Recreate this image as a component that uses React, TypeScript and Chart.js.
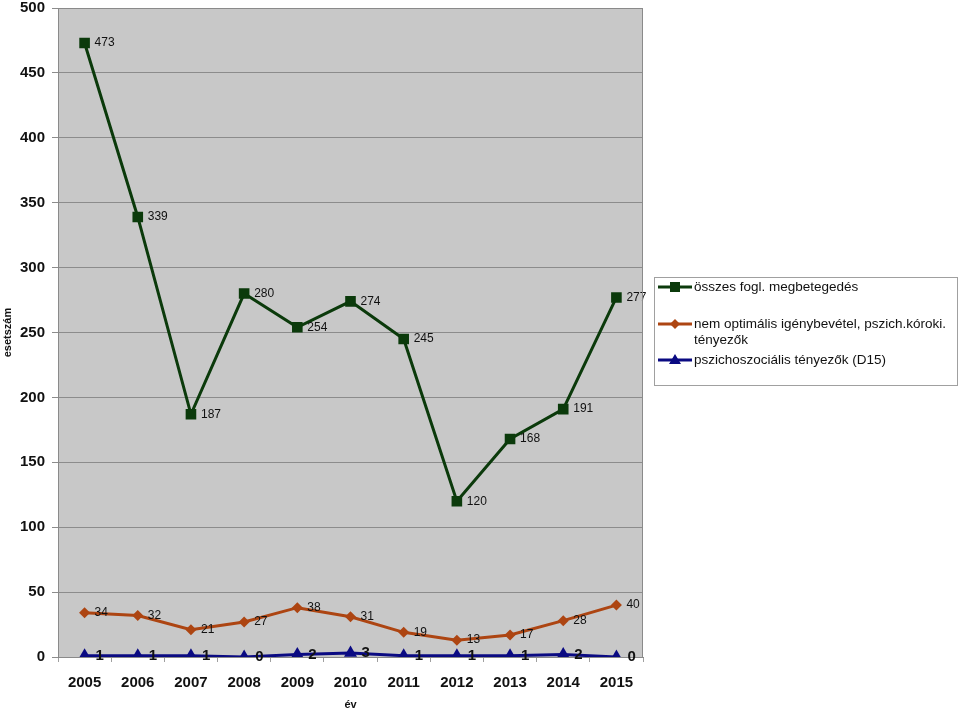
import React, { useEffect, useRef } from "react";
import { Chart, registerables } from "chart.js";

Chart.register(...registerables);

const years = ["2005", "2006", "2007", "2008", "2009", "2010", "2011", "2012", "2013", "2014", "2015"];
const totalCases = [473, 339, 187, 280, 254, 274, 245, 120, 168, 191, 277];
const suboptimalCases = [34, 32, 21, 27, 38, 31, 19, 13, 17, 28, 40];
const psychosocialCases = [1, 1, 1, 0, 2, 3, 1, 1, 1, 2, 0];

const seriesNames = [
  "összes fogl. megbetegedés",
  "nem optimális igénybevétel, pszich.kóroki. tényezők",
  "pszichoszociális tényezők (D15)",
];

const GREEN = "#0b3a0b";
const BROWN = "#ad4512";
const NAVY = "#0a0a82";
const FONT = "'Liberation Sans', Arial, sans-serif";

const labelFonts = ["12px " + FONT, "12px " + FONT, "bold 15px " + FONT];

const bgPlugin = {
  id: "plotBg",
  beforeDraw(chart: any) {
    const { ctx, chartArea: a } = chart;
    ctx.save();
    ctx.fillStyle = "#ffffff";
    ctx.fillRect(0, 0, chart.width, chart.height);
    ctx.fillStyle = "#c8c8c8";
    ctx.fillRect(a.left, a.top, a.right - a.left, a.bottom - a.top);
    ctx.restore();
  },
  afterDraw(chart: any) {
    const { ctx, chartArea: a } = chart;
    ctx.save();
    ctx.strokeStyle = "#8a8a8a";
    ctx.lineWidth = 1;
    ctx.beginPath();
    ctx.moveTo(a.left + 0.5, a.bottom);
    ctx.lineTo(a.left + 0.5, a.top + 0.5);
    ctx.lineTo(a.right - 0.5, a.top + 0.5);
    ctx.lineTo(a.right - 0.5, a.bottom);
    ctx.stroke();
    ctx.restore();
  },
};

const labelPlugin = {
  id: "valueLabels",
  afterDatasetsDraw(chart: any) {
    const { ctx } = chart;
    ctx.save();
    chart.data.datasets.forEach((ds: any, i: number) => {
      const meta = chart.getDatasetMeta(i);
      ctx.font = labelFonts[i];
      ctx.fillStyle = "#111111";
      ctx.textAlign = "left";
      ctx.textBaseline = "middle";
      meta.data.forEach((pt: any, j: number) => {
        ctx.fillText(String(ds.data[j]), pt.x + (i === 2 ? 11 : 10), pt.y);
      });
    });
    ctx.restore();
  },
};

function drawMarker(ctx: any, style: string, x: number, y: number, color: string) {
  ctx.fillStyle = color;
  ctx.beginPath();
  if (style === "rect") {
    ctx.rect(x - 5, y - 5, 10, 10);
  } else if (style === "rectRot") {
    ctx.moveTo(x, y - 5);
    ctx.lineTo(x + 5, y);
    ctx.lineTo(x, y + 5);
    ctx.lineTo(x - 5, y);
    ctx.closePath();
  } else {
    ctx.moveTo(x, y - 6);
    ctx.lineTo(x + 6, y + 4);
    ctx.lineTo(x - 6, y + 4);
    ctx.closePath();
  }
  ctx.fill();
}

const legendPlugin = {
  id: "customLegend",
  afterDraw(chart: any) {
    const { ctx } = chart;
    ctx.save();
    ctx.fillStyle = "#ffffff";
    ctx.fillRect(654.5, 277.5, 303, 108);
    ctx.strokeStyle = "#a0a0a0";
    ctx.lineWidth = 1;
    ctx.strokeRect(654.5, 277.5, 303, 108);
    const items = [
      { y: 287, color: GREEN, style: "rect", lines: [seriesNames[0]] },
      { y: 324, color: BROWN, style: "rectRot", lines: ["nem optimális igénybevétel, pszich.kóroki.", "tényezők"] },
      { y: 360, color: NAVY, style: "triangle", lines: [seriesNames[2]] },
    ];
    items.forEach((it) => {
      ctx.strokeStyle = it.color;
      ctx.lineWidth = 3;
      ctx.beginPath();
      ctx.moveTo(658, it.y);
      ctx.lineTo(692, it.y);
      ctx.stroke();
      drawMarker(ctx, it.style, 675, it.y, it.color);
      ctx.fillStyle = "#111111";
      ctx.font = "13.5px " + FONT;
      ctx.textAlign = "left";
      ctx.textBaseline = "middle";
      it.lines.forEach((t, k) => ctx.fillText(t, 694, it.y + k * 16));
    });
    ctx.restore();
  },
};

export default function App() {
  const ref = useRef<HTMLCanvasElement | null>(null);
  useEffect(() => {
    if (!ref.current) return;
    const chart = new Chart(ref.current, {
      type: "line",
      data: {
        labels: years,
        datasets: [
          {
            label: seriesNames[0],
            data: totalCases,
            borderColor: GREEN,
            backgroundColor: GREEN,
            borderWidth: 3,
            pointStyle: "rect",
            pointRadius: 7.5,
            pointBorderWidth: 0,
            tension: 0,
          },
          {
            label: seriesNames[1],
            data: suboptimalCases,
            borderColor: BROWN,
            backgroundColor: BROWN,
            borderWidth: 3,
            pointStyle: "rectRot",
            pointRadius: 5.5,
            pointBorderWidth: 0,
            tension: 0,
          },
          {
            label: seriesNames[2],
            data: psychosocialCases,
            borderColor: NAVY,
            backgroundColor: NAVY,
            borderWidth: 3,
            pointStyle: "triangle",
            pointRadius: 7.5,
            pointBorderWidth: 0,
            tension: 0,
          },
        ],
      },
      options: {
        responsive: false,
        animation: false,
        layout: { padding: { top: 8, right: 317, left: 0, bottom: 0 } },
        plugins: { legend: { display: false }, tooltip: { enabled: false } },
        scales: {
          x: {
            offset: true,
            grid: {
              offset: true,
              drawOnChartArea: false,
              drawTicks: true,
              tickLength: 5,
              color: "#a0a0a0",
            },
            border: { display: true, color: "#8a8a8a" },
            ticks: {
              color: "#111111",
              font: { family: FONT, size: 15, weight: "bold" },
              padding: 12,
              maxRotation: 0,
              autoSkip: false,
            },
            title: {
              display: true,
              text: "év",
              color: "#111111",
              font: { family: FONT, size: 11, weight: "bold" },
              padding: { top: 0, bottom: -3 },
            },
            afterFit(scale: any) {
              scale.height = 52;
              scale.paddingLeft = 0;
              scale.paddingRight = 0;
            },
          },
          y: {
            min: 0,
            max: 500,
            grid: {
              color: "#8c8c8c",
              drawTicks: true,
              tickLength: 6,
            },
            border: { display: true, color: "#8a8a8a" },
            ticks: {
              stepSize: 50,
              color: "#111111",
              font: { family: FONT, size: 15, weight: "bold" },
              padding: 7,
            },
            title: {
              display: true,
              text: "esetszám",
              color: "#111111",
              font: { family: FONT, size: 11, weight: "bold" },
              padding: { top: 1, bottom: 0 },
            },
            afterFit(scale: any) {
              scale.width = 58;
              scale.paddingTop = 0;
              scale.paddingBottom = 0;
            },
          },
        },
      },
      plugins: [bgPlugin, labelPlugin, legendPlugin],
    } as any);
    return () => chart.destroy();
  }, []);
  return (
    <div style={{ position: "fixed", left: 0, top: 0, width: 960, height: 709, background: "#fff" }}>
      <canvas ref={ref} width={960} height={709} style={{ display: "block" }} />
    </div>
  );
}
